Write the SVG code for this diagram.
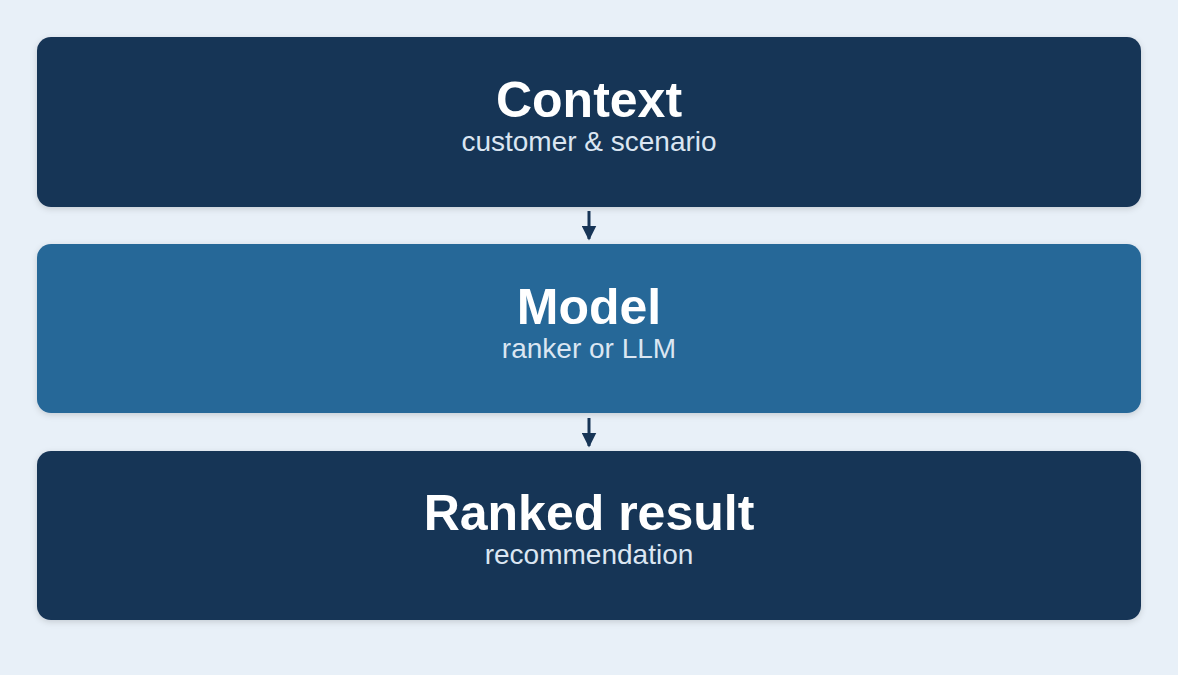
<svg xmlns="http://www.w3.org/2000/svg" width="1178" height="675" viewBox="0 0 1178 675">
<style>
.t{font-family:"Liberation Sans",Arial,sans-serif;font-weight:bold;font-size:50px;fill:#fff;text-anchor:middle}
.s{font-family:"Liberation Sans",Arial,sans-serif;font-size:28px;fill:#dbe6f2;text-anchor:middle}
</style>
<defs>
<marker id="ah" viewBox="0 0 10 10" refX="9" refY="5" markerWidth="5" markerHeight="5" orient="auto"><path d="M0,0L10,5L0,10z" fill="#173557"/></marker>
<filter id="sh" x="-5%" y="-10%" width="110%" height="130%"><feDropShadow dx="0" dy="2" stdDeviation="3" flood-color="#000" flood-opacity="0.15"/></filter>
</defs>
<rect width="1178" height="675" fill="#e8f0f8"/>
<g id="context"><rect x="37" y="37" width="1104" height="170" rx="14" fill="#173557" filter="url(#sh)"/><text class="t" x="589" y="117">Context</text><text class="s" x="589" y="151">customer &amp; scenario</text></g>
<g id="model"><rect x="37" y="244" width="1104" height="169" rx="14" fill="#276898" filter="url(#sh)"/><text class="t" x="589" y="324">Model</text><text class="s" x="589" y="358">ranker or LLM</text></g>
<g id="result"><rect x="37" y="451" width="1104" height="169" rx="14" fill="#173557" filter="url(#sh)"/><text class="t" x="589" y="530">Ranked result</text><text class="s" x="589" y="564">recommendation</text></g>
<g id="connectors" stroke="#173557" stroke-width="3" marker-end="url(#ah)">
<line x1="589" y1="211" x2="589" y2="239"/>
<line x1="589" y1="418" x2="589" y2="446"/>
</g>
</svg>
